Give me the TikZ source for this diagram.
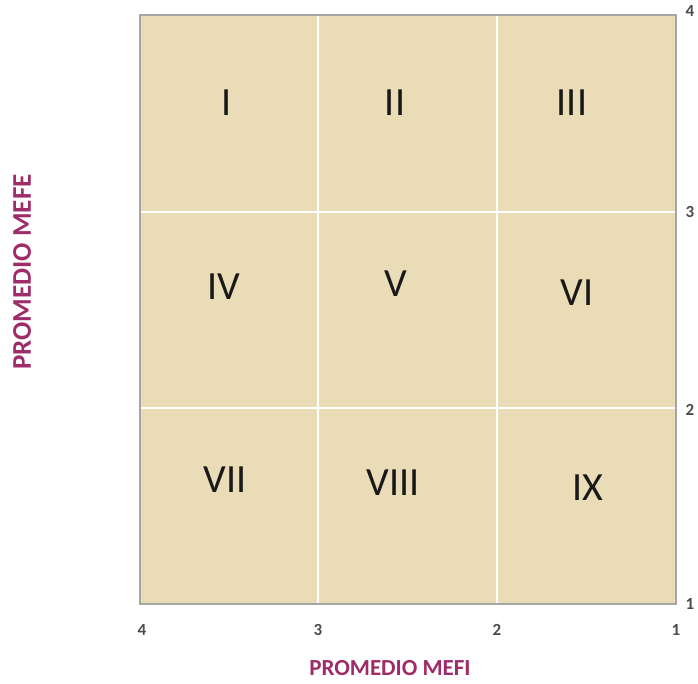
\documentclass[tikz,border=0pt]{standalone}
\usepackage{fontspec}
\setmainfont{Carlito}
\definecolor{mefcolor}{RGB}{158,44,104}
\definecolor{cellfill}{RGB}{234,220,182}

\begin{document}
\begin{tikzpicture}[x=1pt,y=-1pt,
    numeral/.style={font=\fontsize{40}{48}\selectfont,text=black!90},
    tick/.style={font=\bfseries\fontsize{17}{20}\selectfont,text=black!70},
    axistitle/.style={font=\bfseries\fontsize{23}{28}\selectfont,text=mefcolor}]
  \useasboundingbox (0,0) rectangle (698,683);
  % panel and grid
  \fill[cellfill] (140,15) rectangle (676,604);
  \draw[white,line width=1.2pt] (318,15) -- (318,604) (497,15) -- (497,604)
    (140,212) -- (676,212) (140,408) -- (676,408);
  \draw[gray!70,line width=1.4pt] (140,15) rectangle (676,604);
  % zones
  \foreach \name/\x/\y/\txt in {zI/227/103/I, zII/395/103/II, zIII/572/103/III,
      zIV/224/287/IV, zV/396/284/V, zVI/577/293/VI,
      zVII/225/480/VII, zVIII/393/483/VIII, zIX/588/488/IX}
    \node[numeral] (\name) at (\x,\y) {\txt};
  % axis values
  \foreach \v/\x in {4/142, 3/318, 2/497, 1/676}
    \node[tick] (bx\v) at (\x,630) {\v};
  \foreach \v/\y in {4/11, 3/212, 2/410, 1/604}
    \node[tick,inner sep=1pt] (ry\v) at (690,\y) {\v};
  % axis titles
  \node[axistitle] (mefi) at (390,668) {PROMEDIO MEFI};
  \node[axistitle,rotate=90,font=\bfseries\fontsize{27}{30}\selectfont] (mefe) at (22,272) {PROMEDIO MEFE};
\end{tikzpicture}
\end{document}
